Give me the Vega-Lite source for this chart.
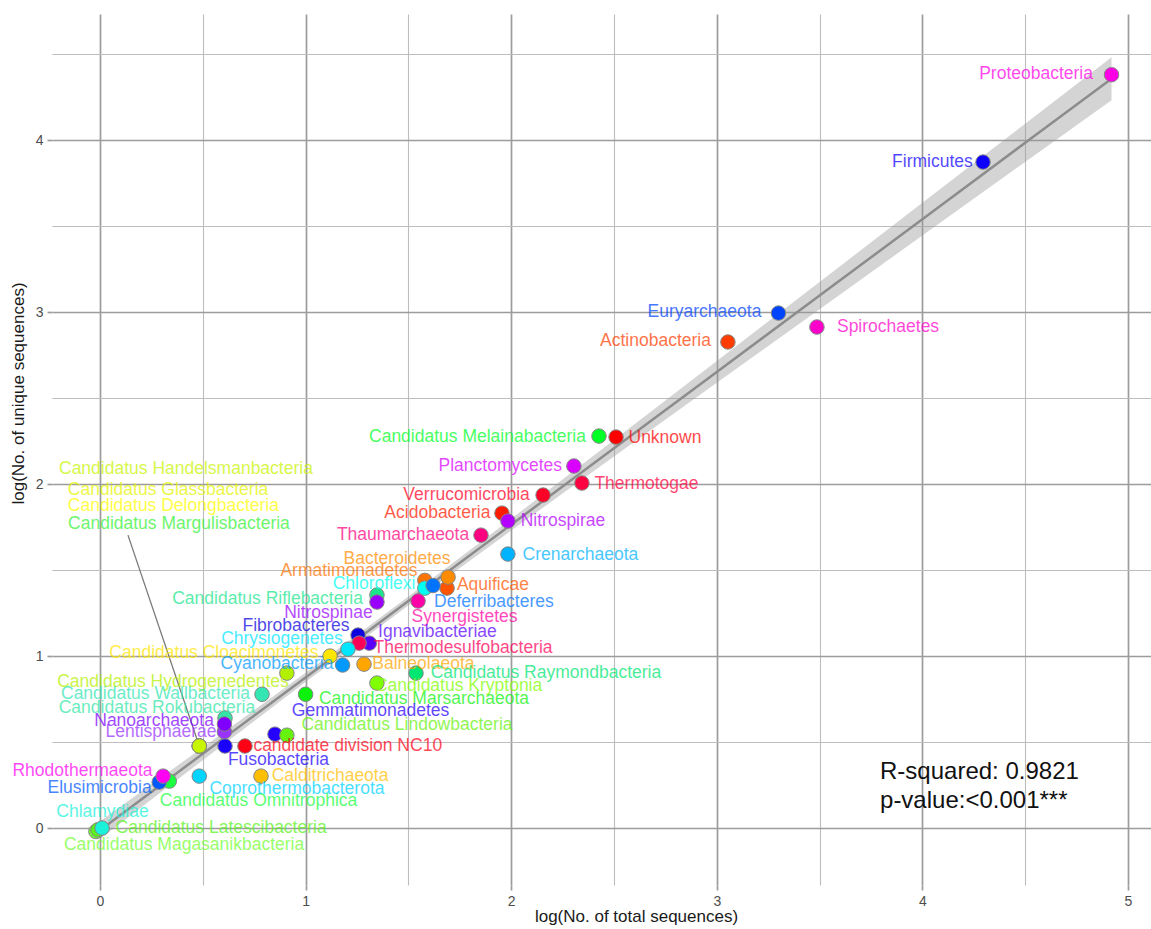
{
  "$schema": "https://vega.github.io/schema/vega-lite/v6.json",
  "width": 1099,
  "height": 871,
  "autosize": {"type": "none"},
  "padding": {"left": 52, "top": 14, "right": 0, "bottom": 44},
  "background": "white",
  "config": {
    "view": {"stroke": null},
    "font": "Liberation Sans",
    "axis": {
      "domain": false,
      "labelFont": "Liberation Sans",
      "labelFontSize": 14,
      "labelColor": "#4D4D4D",
      "titleFont": "Liberation Sans",
      "titleFontSize": 17,
      "titleFontWeight": "normal",
      "titleColor": "#1A1A1A",
      "tickSize": 5,
      "labelPadding": 4,
      "gridColor": {"condition": {"test": "datum.value % 1 === 0", "value": "#9C9C9C"}, "value": "#BDBDBD"},
      "gridWidth": {"condition": {"test": "datum.value % 1 === 0", "value": 1.7}, "value": 1.1},
      "tickColor": {"condition": {"test": "datum.value % 1 === 0", "value": "#9C9C9C"}, "value": "transparent"},
      "tickWidth": 1.7,
      "labelExpr": "datum.value % 1 === 0 ? format(datum.value, 'd') : ''"
    }
  },
  "datasets": {
    "phyla": [
      {"name": "Candidatus Riflebacteria", "x": 1.347, "y": 1.355, "lx": 0.815, "ly": 1.331},
      {"name": "Proteobacteria", "x": 4.92, "y": 4.38, "lx": 4.553, "ly": 4.384},
      {"name": "Firmicutes", "x": 4.295, "y": 3.872, "lx": 4.049, "ly": 3.872},
      {"name": "Euryarchaeota", "x": 3.30, "y": 2.994, "lx": 2.94, "ly": 3.0},
      {"name": "Spirochaetes", "x": 3.487, "y": 2.913, "lx": 3.833, "ly": 2.913},
      {"name": "Actinobacteria", "x": 3.054, "y": 2.826, "lx": 2.702, "ly": 2.831},
      {"name": "Candidatus Melainabacteria", "x": 2.427, "y": 2.279, "lx": 1.836, "ly": 2.273},
      {"name": "Unknown", "x": 2.51, "y": 2.273, "lx": 2.748, "ly": 2.267},
      {"name": "Planctomycetes", "x": 2.305, "y": 2.105, "lx": 1.947, "ly": 2.105},
      {"name": "Thermotogae", "x": 2.344, "y": 2.006, "lx": 2.658, "ly": 2.0},
      {"name": "Verrucomicrobia", "x": 2.155, "y": 1.936, "lx": 1.783, "ly": 1.936},
      {"name": "Acidobacteria", "x": 1.955, "y": 1.831, "lx": 1.641, "ly": 1.831},
      {"name": "Nitrospirae", "x": 1.984, "y": 1.785, "lx": 2.252, "ly": 1.785},
      {"name": "Thaumarchaeota", "x": 1.853, "y": 1.703, "lx": 1.474, "ly": 1.703},
      {"name": "Crenarchaeota", "x": 1.984, "y": 1.593, "lx": 2.337, "ly": 1.587},
      {"name": "Armatimonadetes", "x": 1.58, "y": 1.44, "lx": 1.211, "ly": 1.494},
      {"name": "Aquificae", "x": 1.688, "y": 1.395, "lx": 1.911, "ly": 1.413},
      {"name": "Bacteroidetes", "x": 1.693, "y": 1.459, "lx": 1.445, "ly": 1.564},
      {"name": "Chloroflexi", "x": 1.58, "y": 1.395, "lx": 1.333, "ly": 1.419},
      {"name": "Deferribacteres", "x": 1.62, "y": 1.41, "lx": 1.916, "ly": 1.314},
      {"name": "Synergistetes", "x": 1.547, "y": 1.32, "lx": 1.773, "ly": 1.227},
      {"name": "Nitrospinae", "x": 1.347, "y": 1.314, "lx": 1.111, "ly": 1.25},
      {"name": "Fibrobacteres", "x": 1.255, "y": 1.122, "lx": 0.953, "ly": 1.174},
      {"name": "Ignavibacteriae", "x": 1.31, "y": 1.075, "lx": 1.641, "ly": 1.14},
      {"name": "Thermodesulfobacteria", "x": 1.26, "y": 1.075, "lx": 1.766, "ly": 1.047},
      {"name": "Chrysiogenetes", "x": 1.206, "y": 1.04, "lx": 0.885, "ly": 1.099},
      {"name": "Candidatus Cloacimonetes", "x": 1.119, "y": 1.0, "lx": 0.554, "ly": 1.017},
      {"name": "Cyanobacteria", "x": 1.18, "y": 0.948, "lx": 0.861, "ly": 0.953},
      {"name": "Balneolaeota", "x": 1.284, "y": 0.953, "lx": 1.573, "ly": 0.953},
      {"name": "Candidatus Raymondbacteria", "x": 1.537, "y": 0.901, "lx": 2.169, "ly": 0.901},
      {"name": "Candidatus Kryptonia", "x": 1.347, "y": 0.843, "lx": 1.744, "ly": 0.826},
      {"name": "Candidatus Hydrogenedentes", "x": 0.909, "y": 0.901, "lx": 0.355, "ly": 0.849},
      {"name": "Candidatus Marsarchaeota", "x": 1.0, "y": 0.778, "lx": 1.576, "ly": 0.75},
      {"name": "Candidatus Wallbacteria", "x": 0.788, "y": 0.778, "lx": 0.27, "ly": 0.779},
      {"name": "Candidatus Rokubacteria", "x": 0.608, "y": 0.64, "lx": 0.277, "ly": 0.698},
      {"name": "Lentisphaerae", "x": 0.605, "y": 0.56, "lx": 0.297, "ly": 0.558},
      {"name": "Nanoarchaeota", "x": 0.605, "y": 0.605, "lx": 0.263, "ly": 0.622},
      {"name": "Gemmatimonadetes", "x": 0.851, "y": 0.546, "lx": 1.316, "ly": 0.68},
      {"name": "Candidatus Lindowbacteria", "x": 0.909, "y": 0.54, "lx": 1.493, "ly": 0.599},
      {"name": "Candidatus Margulisbacteria", "x": 0.483, "y": 0.477, "lx": 0.384, "ly": 1.767},
      {"name": "Candidatus Delongbacteria", "x": 0.483, "y": 0.477, "lx": 0.357, "ly": 1.872},
      {"name": "Candidatus Glassbacteria", "x": 0.483, "y": 0.477, "lx": 0.331, "ly": 1.965},
      {"name": "Candidatus Handelsmanbacteria", "x": 0.483, "y": 0.477, "lx": 0.418, "ly": 2.087},
      {"name": "Fusobacteria", "x": 0.608, "y": 0.477, "lx": 0.868, "ly": 0.395},
      {"name": "candidate division NC10", "x": 0.705, "y": 0.477, "lx": 1.205, "ly": 0.477},
      {"name": "Candidatus Omnitrophica", "x": 0.337, "y": 0.273, "lx": 0.771, "ly": 0.157},
      {"name": "Elusimicrobia", "x": 0.288, "y": 0.267, "lx": -0.002, "ly": 0.233},
      {"name": "Rhodothermaeota", "x": 0.307, "y": 0.302, "lx": -0.085, "ly": 0.331},
      {"name": "Coprothermobacterota", "x": 0.483, "y": 0.302, "lx": 0.958, "ly": 0.227},
      {"name": "Calditrichaeota", "x": 0.783, "y": 0.302, "lx": 1.119, "ly": 0.302},
      {"name": "Candidatus Magasanikbacteria", "x": -0.02, "y": -0.02, "lx": 0.409, "ly": -0.099},
      {"name": "Candidatus Latescibacteria", "x": -0.01, "y": -0.01, "lx": 0.589, "ly": 0.0},
      {"name": "Chlamydiae", "x": 0.01, "y": 0.0, "lx": 0.012, "ly": 0.093}
    ],
    "fit": [
      {"x": 0, "fit": -0.012, "lo": -0.063, "hi": 0.039},
      {"x": 0.5, "fit": 0.432, "lo": 0.395, "hi": 0.469},
      {"x": 1, "fit": 0.876, "lo": 0.849, "hi": 0.903},
      {"x": 1.3, "fit": 1.142, "lo": 1.117, "hi": 1.167},
      {"x": 1.5, "fit": 1.32, "lo": 1.294, "hi": 1.346},
      {"x": 2, "fit": 1.764, "lo": 1.73, "hi": 1.798},
      {"x": 2.5, "fit": 2.208, "lo": 2.16, "hi": 2.256},
      {"x": 3, "fit": 2.652, "lo": 2.589, "hi": 2.715},
      {"x": 3.5, "fit": 3.096, "lo": 3.017, "hi": 3.175},
      {"x": 4, "fit": 3.54, "lo": 3.445, "hi": 3.635},
      {"x": 4.5, "fit": 3.984, "lo": 3.873, "hi": 4.095},
      {"x": 4.92, "fit": 4.357, "lo": 4.232, "hi": 4.482}
    ],
    "segment": [
      {"x": 0.136, "y": 1.703, "x2": 0.483, "y2": 0.477}
    ],
    "stats": [
      {"x": 3.794, "y": 0.326, "text": "R-squared: 0.9821"},
      {"x": 3.794, "y": 0.157, "text": "p-value:<0.001***"}
    ]
  },
  "layer": [
    {
      "data": {"name": "fit"},
      "mark": {"type": "area", "color": "#999999", "opacity": 0.42},
      "encoding": {
        "x": {"field": "x", "type": "quantitative",
          "scale": {"domain": [-0.2335, 5.112], "nice": false, "zero": false},
          "axis": {"values": [0, 0.5, 1, 1.5, 2, 2.5, 3, 3.5, 4, 4.5, 5], "title": "log(No. of total sequences)", "titleX": 584, "titleY": 31, "titleBaseline": "middle", "titleAlign": "center"}},
        "y": {"field": "lo", "type": "quantitative",
          "scale": {"domain": [-0.331, 4.733], "nice": false, "zero": false},
          "axis": {"values": [0, 0.5, 1, 1.5, 2, 2.5, 3, 3.5, 4, 4.5], "title": "log(No. of unique sequences)", "titleX": -34, "titleY": 379, "titleBaseline": "middle", "titleAlign": "center", "titleAngle": -90}},
        "y2": {"field": "hi"}
      }
    },
    {
      "data": {"name": "fit"},
      "mark": {"type": "line", "color": "#8C8C8C", "strokeWidth": 2.5},
      "encoding": {
        "x": {"field": "x", "type": "quantitative"},
        "y": {"field": "fit", "type": "quantitative"}
      }
    },
    {
      "data": {"name": "segment"},
      "mark": {"type": "rule", "color": "#7A7A7A", "strokeWidth": 1.3},
      "encoding": {
        "x": {"field": "x", "type": "quantitative"},
        "y": {"field": "y", "type": "quantitative"},
        "x2": {"field": "x2"},
        "y2": {"field": "y2"}
      }
    },
    {
      "data": {"name": "phyla"},
      "mark": {"type": "circle", "size": 210, "opacity": 1, "stroke": "#858585", "strokeWidth": 1},
      "encoding": {
        "x": {"field": "x", "type": "quantitative"},
        "y": {"field": "y", "type": "quantitative"},
        "color": {"field": "name", "type": "nominal", "legend": null,
          "scale": {
            "domain": ["Proteobacteria","Firmicutes","Euryarchaeota","Spirochaetes","Actinobacteria","Candidatus Melainabacteria","Unknown","Planctomycetes","Thermotogae","Verrucomicrobia","Acidobacteria","Nitrospirae","Thaumarchaeota","Crenarchaeota","Bacteroidetes","Aquificae","Armatimonadetes","Chloroflexi","Deferribacteres","Synergistetes","Candidatus Riflebacteria","Nitrospinae","Fibrobacteres","Ignavibacteriae","Thermodesulfobacteria","Chrysiogenetes","Candidatus Cloacimonetes","Cyanobacteria","Balneolaeota","Candidatus Raymondbacteria","Candidatus Kryptonia","Candidatus Hydrogenedentes","Candidatus Marsarchaeota","Candidatus Wallbacteria","Candidatus Rokubacteria","Nanoarchaeota","Lentisphaerae","Gemmatimonadetes","Candidatus Lindowbacteria","Candidatus Handelsmanbacteria","Candidatus Glassbacteria","Candidatus Delongbacteria","Candidatus Margulisbacteria","Fusobacteria","candidate division NC10","Rhodothermaeota","Elusimicrobia","Candidatus Omnitrophica","Coprothermobacterota","Calditrichaeota","Chlamydiae","Candidatus Latescibacteria","Candidatus Magasanikbacteria"],
            "range": ["#FF00E6","#0D00FF","#0044FF","#FF00CC","#FF3D00","#00FF26","#FF0000","#D900FF","#FF0040","#FF0026","#FF1A00","#B300FF","#FF0080","#00B3FF","#FF8C00","#FF5500","#FF7300","#00FFF2","#0073FF","#FF00A6","#1AE68C","#9900FF","#0A00E0","#5900FF","#FF0059","#00E6FF","#FFE600","#0099FF","#FFA600","#00E673","#80FF00","#B3F000","#0DF20D","#33E6B3","#33E6A6","#8000FF","#9933FF","#2600FF","#66F20D","#C8F500","#E6F500","#FFFF00","#33F233","#1A00FF","#FF0014","#FF00F2","#0059FF","#1AFF40","#00D4FF","#FFBF00","#1AF2D9","#59F21A","#73FF33"]
          }}
      }
    },
    {
      "data": {"name": "phyla"},
      "mark": {"type": "text", "fontSize": 17.5, "font": "Liberation Sans", "align": "center", "baseline": "middle", "opacity": 0.72},
      "encoding": {
        "x": {"field": "lx", "type": "quantitative"},
        "y": {"field": "ly", "type": "quantitative"},
        "text": {"field": "name", "type": "nominal"},
        "color": {"field": "name", "type": "nominal", "legend": null}
      }
    },
    {
      "data": {"name": "stats"},
      "mark": {"type": "text", "fontSize": 24, "font": "Liberation Sans", "align": "left", "baseline": "middle", "color": "#111111"},
      "encoding": {
        "x": {"field": "x", "type": "quantitative"},
        "y": {"field": "y", "type": "quantitative"},
        "text": {"field": "text", "type": "nominal"}
      }
    }
  ]
}
